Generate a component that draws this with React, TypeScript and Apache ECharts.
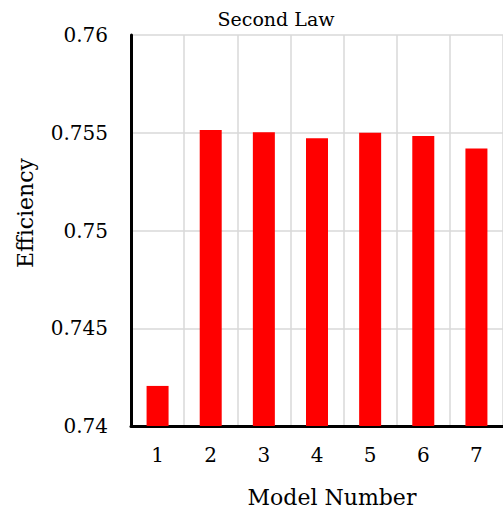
import React, { useEffect, useRef } from "react";
import * as echarts from "echarts";

const categories = ["1", "2", "3", "4", "5", "6", "7"];
const efficiency = [0.74205, 0.75514, 0.75502, 0.75472, 0.755, 0.75483, 0.7542];
const yMin = 0.74;
const yMax = 0.76;
const yStep = 0.005;

const FONT = "DejaVu Serif";

export default function App() {
  const ref = useRef<HTMLDivElement>(null);

  useEffect(() => {
    if (!ref.current) return;
    const chart = echarts.init(ref.current, null, { renderer: "svg" });
    chart.setOption({
      animation: false,
      backgroundColor: "#ffffff",
      title: {
        text: "Second Law",
        left: 271,
        top: 4,
        textAlign: "center",
        textStyle: { fontFamily: FONT, fontSize: 19, fontWeight: "normal", color: "#000" },
      },
      grid: { left: 131, top: 35, width: 379, height: 391, containLabel: false },
      xAxis: {
        type: "category",
        data: categories,
        axisLine: { lineStyle: { color: "#000", width: 3 } },
        axisTick: { show: false },
        axisLabel: { fontFamily: FONT, fontSize: 20, color: "#000", margin: 19 },
        splitLine: { show: true, lineStyle: { color: "#d9d9d9", width: 1.5 } },
      },
      yAxis: {
        type: "value",
        min: yMin,
        max: yMax,
        interval: yStep,
        axisLine: { show: true, lineStyle: { color: "#000", width: 3 } },
        axisTick: { show: false },
        axisLabel: { fontFamily: FONT, fontSize: 20, color: "#000", margin: 23 },
        splitLine: { show: true, lineStyle: { color: "#d9d9d9", width: 1.5 } },
      },
      graphic: [
        {
          type: "text",
          x: 332,
          y: 497,
          style: {
            text: "Model Number",
            fontFamily: FONT,
            fontSize: 22,
            fill: "#000",
            align: "center",
            verticalAlign: "middle",
          },
        },
        {
          type: "text",
          x: 25,
          y: 213,
          rotation: Math.PI / 2,
          style: {
            text: "Efficiency",
            fontFamily: FONT,
            fontSize: 22,
            fill: "#000",
            align: "center",
            verticalAlign: "middle",
          },
        },
      ],
      series: [
        {
          type: "bar",
          data: efficiency,
          barWidth: 22,
          itemStyle: { color: "#ff0000" },
        },
      ],
    });
    return () => chart.dispose();
  }, []);

  return (
    <div
      ref={ref}
      style={{ position: "fixed", left: 0, top: 0, width: 503, height: 512 }}
    />
  );
}
